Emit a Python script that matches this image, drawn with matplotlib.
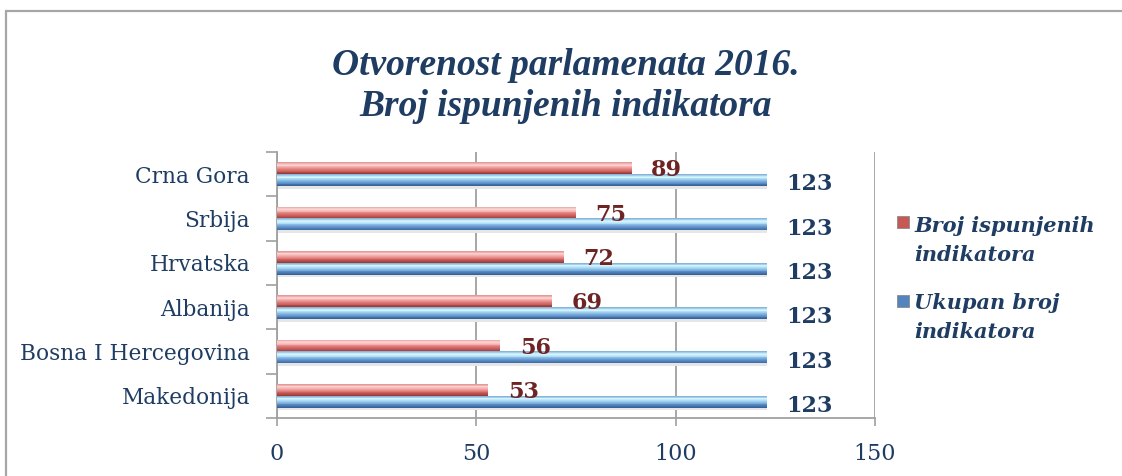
import matplotlib
matplotlib.use("Agg")
import matplotlib.pyplot as plt
from matplotlib.patches import Rectangle
from matplotlib.colors import LinearSegmentedColormap
import numpy as np

categories = ["Crna Gora", "Srbija", "Hrvatska", "Albanija", "Bosna I Hercegovina", "Makedonija"]
ispunjeni = [89, 75, 72, 69, 56, 53]
ukupno = [123, 123, 123, 123, 123, 123]
series_names = ["Broj ispunjenih\nindikatora", "Ukupan broj\nindikatora"]
x_ticks = [0, 50, 100, 150]
title = "Otvorenost parlamenata 2016.\nBroj ispunjenih indikatora"

NAVY = "#1f3d63"
MAROON = "#6e2424"
red_keys = ["#e69a98", "#fcd6d5", "#f3aeac", "#df7d7a", "#c65955", "#9c3c39"]
blue_keys = ["#86b4da", "#dbf8ff", "#a9dcf4", "#7badde", "#5484be", "#35639a"]

W, H = 1122, 476
fig = plt.figure(figsize=(W / 100, H / 100), dpi=100)
fig.patch.set_facecolor("white")

# outer chart frame
fig.patches.append(Rectangle((6 / W, -0.05), 1.2, 1 - 11 / H + 0.05,
                             transform=fig.transFigure, fill=False,
                             edgecolor="#a6a6a6", lw=1.6, zorder=0))

ax = fig.add_axes([277 / W, 1 - 418 / H, (875 - 277) / W, (418 - 152) / H])

y = np.arange(len(categories))
bh = 0.27
NB = 14

def gradient_bars(centers, values, keys):
    cmap = LinearSegmentedColormap.from_list("g", keys)
    band = bh / NB
    top = centers - bh / 2
    for i in range(NB):
        ax.barh(top + band * (i + 0.5), values, height=band * 1.05,
                color=cmap(i / (NB - 1)), linewidth=0, zorder=3)

# soft shadow under the blue bars
ax.barh(y + bh + 0.03, ukupno, height=0.06, color="#e6e6e6", linewidth=0, zorder=2)
gradient_bars(y - bh / 2, ispunjeni, red_keys)
gradient_bars(y + bh / 2, ukupno, blue_keys)

for yi, v in zip(y, ispunjeni):
    ax.annotate(str(v), (v, yi - bh / 2), xytext=(14, -1.5), textcoords="offset points",
                ha="left", va="center", fontsize=16, fontweight="bold",
                family="DejaVu Serif", color=MAROON, zorder=5)
for yi, v in zip(y, ukupno):
    ax.annotate(str(v), (v, yi + bh / 2), xytext=(14, -3), textcoords="offset points",
                ha="left", va="center", fontsize=16, fontweight="bold",
                family="DejaVu Serif", color=NAVY, zorder=5)

ax.set_xlim(0, 150)
ax.set_ylim(len(categories) - 0.5, -0.5)
ax.set_xticks(x_ticks)
ax.set_xticklabels([str(t) for t in x_ticks], family="DejaVu Serif", fontsize=16, color=NAVY)
ax.set_yticks(y)
ax.set_yticklabels(categories, family="DejaVu Serif", fontsize=15.6, color=NAVY)
ax.set_yticks(np.arange(-0.5, len(categories)), minor=True)
ax.tick_params(axis="y", which="major", length=0, pad=19.5)
ax.tick_params(axis="y", which="minor", length=8, width=1.2, color="#a0a0a0")
ax.tick_params(axis="x", length=6, width=1.2, color="#a0a0a0", pad=12)
ax.xaxis.grid(True, color="#a0a0a0", lw=1.3, zorder=0)
ax.set_axisbelow(True)
for s in ["top", "right"]:
    ax.spines[s].set_visible(False)
for s in ["left", "bottom"]:
    ax.spines[s].set_color("#a0a0a0")
    ax.spines[s].set_linewidth(1.3)

fig.text(566 / W, 1 - 86 / H, title, ha="center", va="center", fontsize=27,
         fontweight="bold", style="italic", family="Liberation Serif",
         color=NAVY, linespacing=1.2)

# legend
leg_entries = [(series_names[0], red_keys[4], 222, 216), (series_names[1], blue_keys[4], 301, 293)]
for label, col, yc, ytop in leg_entries:
    fig.patches.append(Rectangle((897 / W, 1 - (yc + 6) / H), 12 / W, 12 / H,
                                 transform=fig.transFigure, facecolor=col,
                                 edgecolor="#8a8a8a", lw=0.6))
    fig.text(914 / W, 1 - ytop / H, label, ha="left", va="top", fontsize=15,
             fontweight="bold", style="italic", family="DejaVu Serif",
             color=NAVY, linespacing=1.56)

fig.savefig("out.png", dpi=100)
